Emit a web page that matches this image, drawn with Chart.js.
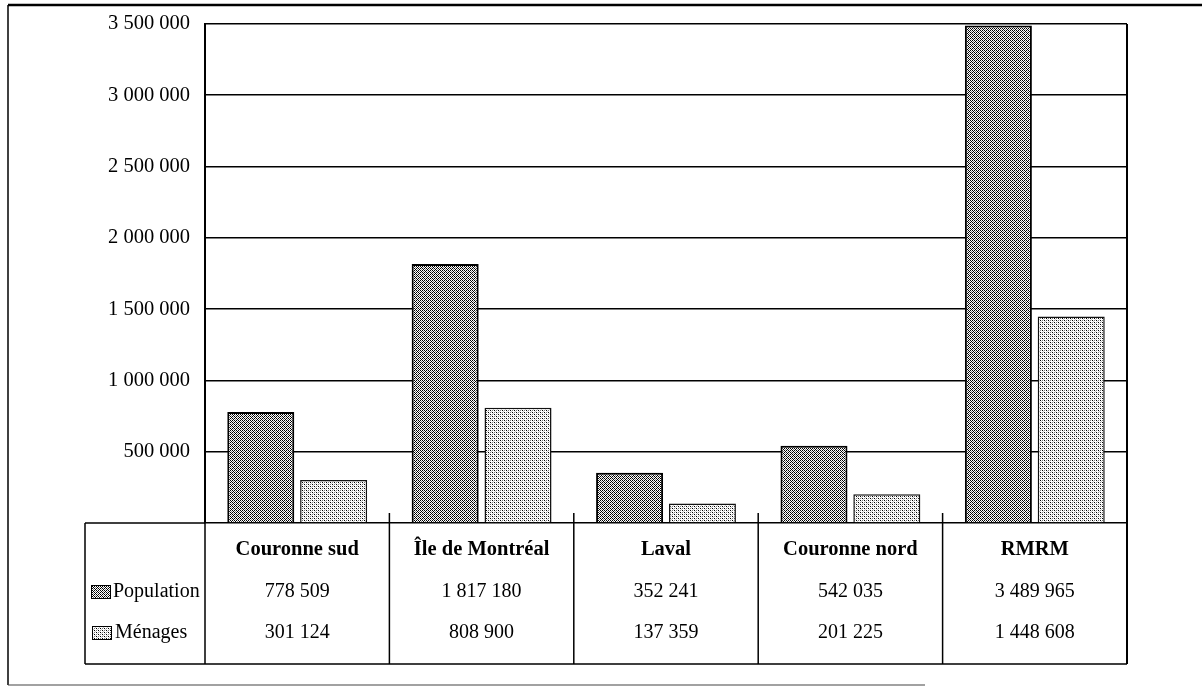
<!DOCTYPE html>
<html>
<head>
<meta charset="utf-8">
<script src="https://cdn.jsdelivr.net/npm/chart.js@4.4.1/dist/chart.umd.min.js"></script>
<style>
  html, body { margin: 0; padding: 0; background: #fff; }
  #c { display: block; }
</style>
</head>
<body>
<canvas id="c" width="1202" height="688"></canvas>
<script>
// data
var categories = ['Couronne sud', 'Île de Montréal', 'Laval', 'Couronne nord', 'RMRM'];
var population = [778509, 1817180, 352241, 542035, 3489965];
var menages = [301124, 808900, 137359, 201225, 1448608];
var seriesLabels = ['Population', 'Ménages'];
var yMax = 3500000;
var yStep = 500000;

var serif = "'Liberation Serif', 'Times New Roman', serif";
Chart.defaults.font.family = serif;
Chart.defaults.color = '#000';

// french style thousands : 1 817 180
function fmt(n) {
  return String(n).replace(/\B(?=(\d{3})+(?!\d))/g, ' ');
}

// stippled grey fills, like the printed original
function makeTile(rows) {
  var t = document.createElement('canvas');
  t.width = rows[0].length;
  t.height = rows.length;
  var tc = t.getContext('2d');
  var cols = { K: '#000', G: '#7a7a7a', L: '#c8c8c8', W: '#fff' };
  for (var y = 0; y < rows.length; y++) {
    for (var x = 0; x < rows[y].length; x++) {
      tc.fillStyle = cols[rows[y][x]];
      tc.fillRect(x, y, 1, 1);
    }
  }
  return t;
}

var ctx = document.getElementById('c').getContext('2d');
var popFill = ctx.createPattern(makeTile([
  'KWKW',
  'WGWK',
  'KWKW',
  'WKWG'
]), 'repeat');
var menFill = ctx.createPattern(makeTile([
  'KWGW',
  'WLWW',
  'GWKW',
  'WWWL'
]), 'repeat');
var fills = [popFill, menFill];

var tableBottom = 664;
var tableLeft = 85;

var tablePlugin = {
  id: 'dataTable',
  afterDraw: function(chart) {
    var c = chart.ctx;
    var area = chart.chartArea;
    var xs = chart.scales.x;
    var half = (area.right - area.left) / categories.length / 2;
    c.save();
    c.strokeStyle = '#000';

    // right edge of plot + table
    c.lineWidth = 2;
    c.beginPath();
    c.moveTo(area.right, area.top);
    c.lineTo(area.right, tableBottom);
    c.stroke();

    // table frame
    c.lineWidth = 1.5;
    c.beginPath();
    c.moveTo(tableLeft, area.bottom);
    c.lineTo(area.left, area.bottom);
    c.moveTo(tableLeft, area.bottom);
    c.lineTo(tableLeft, tableBottom);
    c.moveTo(tableLeft, tableBottom);
    c.lineTo(area.right, tableBottom);
    c.moveTo(area.left, area.bottom);
    c.lineTo(area.left, tableBottom);
    for (var i = 1; i < categories.length; i++) {
      var bx = xs.getPixelForValue(i) - half;
      c.moveTo(bx, area.bottom - 10);
      c.lineTo(bx, tableBottom);
    }
    c.stroke();

    // header and values
    var rowY = [550, 592, 633];
    c.fillStyle = '#000';
    c.textAlign = 'center';
    c.textBaseline = 'middle';
    for (var j = 0; j < categories.length; j++) {
      var cx = xs.getPixelForValue(j);
      c.font = 'bold 20.5px ' + serif;
      c.fillText(categories[j], cx, rowY[0]);
      c.font = '20px ' + serif;
      c.fillText(fmt(population[j]), cx, rowY[1]);
      c.fillText(fmt(menages[j]), cx, rowY[2]);
    }

    // row legend with swatches
    c.textAlign = 'left';
    c.font = '20px ' + serif;
    var swX = [91, 92];
    var txX = [113, 115];
    for (var k = 0; k < seriesLabels.length; k++) {
      var y = rowY[k + 1];
      c.fillStyle = fills[k];
      c.fillRect(swX[k], y - 7, 20, 14);
      c.lineWidth = 1;
      c.strokeRect(swX[k] + 0.5, y - 6.5, 19, 13);
      c.fillStyle = '#000';
      c.fillText(seriesLabels[k], txX[k], y);
    }

    // outer frame of the figure
    c.lineWidth = 2.5;
    c.beginPath();
    c.moveTo(8, 5);
    c.lineTo(1202, 5);
    c.stroke();
    c.lineWidth = 1.5;
    c.beginPath();
    c.moveTo(8, 5);
    c.lineTo(8, 685);
    c.stroke();
    c.strokeStyle = '#444';
    c.lineWidth = 1.2;
    c.beginPath();
    c.moveTo(8, 685);
    c.lineTo(925, 685);
    c.stroke();
    c.restore();
  }
};

var chart = new Chart(ctx, {
  type: 'bar',
  data: {
    labels: categories,
    datasets: [
      {
        label: seriesLabels[0],
        data: population,
        backgroundColor: popFill,
        borderColor: '#000',
        borderWidth: 2,
        categoryPercentage: 0.79,
        barPercentage: 0.92
      },
      {
        label: seriesLabels[1],
        data: menages,
        backgroundColor: menFill,
        borderColor: '#111',
        borderWidth: 1.5,
        categoryPercentage: 0.79,
        barPercentage: 0.92
      }
    ]
  },
  options: {
    responsive: false,
    animation: false,
    devicePixelRatio: 1,
    layout: {
      padding: { left: 0, right: 75, top: 24, bottom: 165 }
    },
    plugins: {
      legend: { display: false },
      tooltip: { enabled: false }
    },
    scales: {
      x: {
        display: false
      },
      y: {
        min: 0,
        max: yMax,
        ticks: {
          stepSize: yStep,
          padding: 15,
          font: { size: 20.5, family: serif },
          color: '#000',
          callback: function(v) { return v === 0 ? '' : fmt(v); }
        },
        grid: {
          color: '#000',
          lineWidth: 1.6,
          drawTicks: false
        },
        border: { display: true, color: '#000', width: 2 },
        afterFit: function(scale) {
          scale.width = 205;
          scale.paddingTop = 0;
          scale.paddingBottom = 0;
        }
      }
    }
  },
  plugins: [tablePlugin]
});
</script>
</body>
</html>
